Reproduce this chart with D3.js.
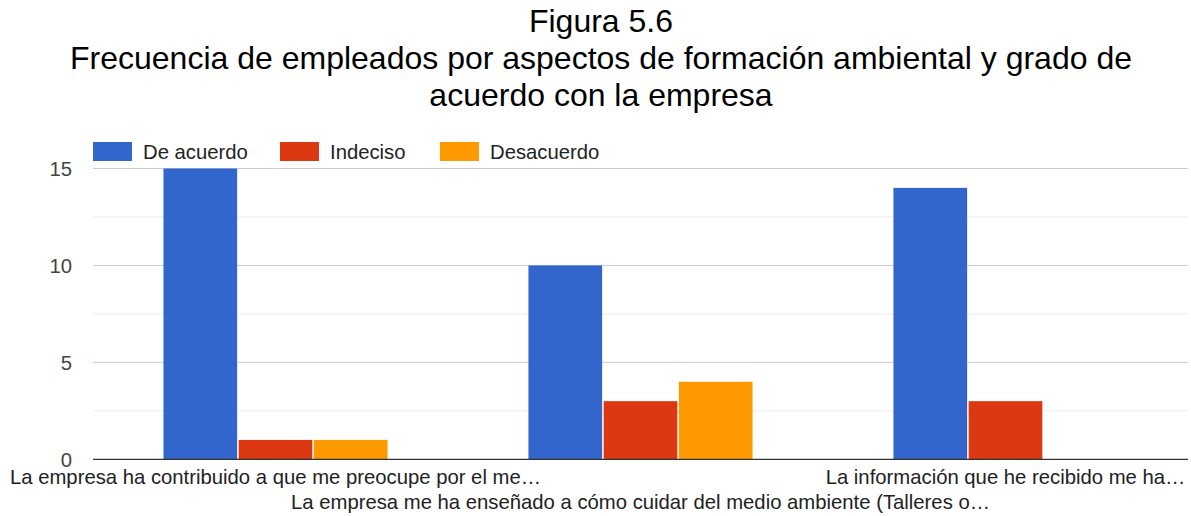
<!DOCTYPE html>
<html>
<head>
<meta charset="utf-8" />
<title>Figura 5.6</title>
<script src="https://cdn.jsdelivr.net/npm/d3@7"></script>
<style>
    body { margin: 0; background: #fff; }
    text { font-family: "Liberation Sans", Arial, sans-serif; }
</style>
</head>
<body>
<script>
    // data
    const categories = [
        'La empresa ha contribuido a que me preocupe por el me…',
        'La empresa me ha enseñado a cómo cuidar del medio ambiente (Talleres o…',
        'La información que he recibido me ha…'
    ]
    const seriesNames = ['De acuerdo', 'Indeciso', 'Desacuerdo']
    const deAcuerdo = [15, 10, 14]
    const indeciso = [1, 3, 3]
    const desacuerdo = [1, 4, 0]
    const yTicks = [0, 5, 10, 15]
    const titleLines = [
        'Figura 5.6',
        'Frecuencia de empleados por aspectos de formación ambiental y grado de',
        'acuerdo con la empresa'
    ]

    const colors = ['#3366cc', '#dc3912', '#ff9900']
    const values = [deAcuerdo, indeciso, desacuerdo]

    const width = 1191, height = 516
    const margin = { top: 168.5, right: 3, bottom: 56.7, left: 93 }
    const fs = 20.3

    const svg = d3.select('body').append('svg')
        .attr('width', width)
        .attr('height', height)

    // title
    svg.append('g').selectAll('text')
        .data(titleLines)
        .enter().append('text')
        .attr('x', 601)
        .attr('y', function (d, i) { return 32 + i * 37 })
        .attr('text-anchor', 'middle')
        .attr('font-size', 32)
        .attr('fill', '#000')
        .text(function (d) { return d })

    const x0 = d3.scaleBand()
        .domain(d3.range(categories.length))
        .range([margin.left, width - margin.right])
        .paddingInner(0.386)
        .paddingOuter(0.193)

    const x1 = d3.scaleBand()
        .domain(d3.range(seriesNames.length))
        .range([0, x0.bandwidth()])
        .paddingInner(0.02)

    const y = d3.scaleLinear()
        .domain([0, 15])
        .range([height - margin.bottom, margin.top])

    // gridlines (minor + major)
    const gridG = svg.append('g')
    gridG.selectAll('line.minor')
        .data(d3.range(2.5, 15, 5))
        .enter().append('line')
        .attr('class', 'minor')
        .attr('x1', margin.left).attr('x2', width - margin.right)
        .attr('y1', function (d) { return y(d) }).attr('y2', function (d) { return y(d) })
        .attr('stroke', '#ebebeb').attr('stroke-width', 1)
    gridG.selectAll('line.major')
        .data(yTicks.filter(function (d) { return d > 0 }))
        .enter().append('line')
        .attr('class', 'major')
        .attr('x1', margin.left).attr('x2', width - margin.right)
        .attr('y1', function (d) { return y(d) }).attr('y2', function (d) { return y(d) })
        .attr('stroke', '#cccccc').attr('stroke-width', 1)

    // y axis labels
    const yAxis = d3.axisLeft(y).tickValues(yTicks).tickSize(0).tickPadding(21)
    const yG = svg.append('g')
        .attr('transform', `translate(${margin.left}, 0)`)
        .call(yAxis)
    yG.select('.domain').remove()
    yG.selectAll('text')
        .attr('font-size', fs)
        .attr('fill', '#444')
        .attr('dy', '0.34em')
        .style('font-family', '"Liberation Sans", Arial, sans-serif')

    // bars
    const groups = svg.append('g').selectAll('g')
        .data(categories)
        .enter().append('g')
        .attr('transform', function (d, i) { return `translate(${x0(i)}, 0)` })

    groups.selectAll('rect')
        .data(function (d, i) { return values.map(function (s, j) { return { s: j, v: s[i] } }) })
        .enter().append('rect')
        .filter(function (d) { return d.v > 0 })
        .attr('x', function (d) { return x1(d.s) })
        .attr('y', function (d) { return y(d.v) })
        .attr('width', x1.bandwidth())
        .attr('height', function (d) { return y(0) - y(d.v) })
        .attr('fill', function (d) { return colors[d.s] })

    // baseline
    svg.append('line')
        .attr('x1', margin.left).attr('x2', width - margin.right)
        .attr('y1', y(0)).attr('y2', y(0))
        .attr('stroke', '#333').attr('stroke-width', 1.2)

    // x axis labels (staggered)
    svg.append('g').selectAll('text')
        .data(categories)
        .enter().append('text')
        .attr('x', function (d, i) { return x0(i) + x0.bandwidth() / 2 })
        .attr('y', function (d, i) { return i % 2 === 0 ? 483.5 : 508.5 })
        .attr('text-anchor', 'middle')
        .attr('font-size', fs)
        .attr('fill', '#222')
        .text(function (d) { return d })

    // legend
    const legendX = [93, 280, 440]
    const legend = svg.append('g').selectAll('g')
        .data(seriesNames)
        .enter().append('g')
        .attr('transform', function (d, i) { return `translate(${legendX[i]}, 142)` })
    legend.append('rect')
        .attr('width', 39).attr('height', 19)
        .attr('fill', function (d, i) { return colors[i] })
    legend.append('text')
        .attr('x', 50).attr('y', 17)
        .attr('font-size', fs)
        .attr('fill', '#222')
        .text(function (d) { return d })
</script>
</body>
</html>
